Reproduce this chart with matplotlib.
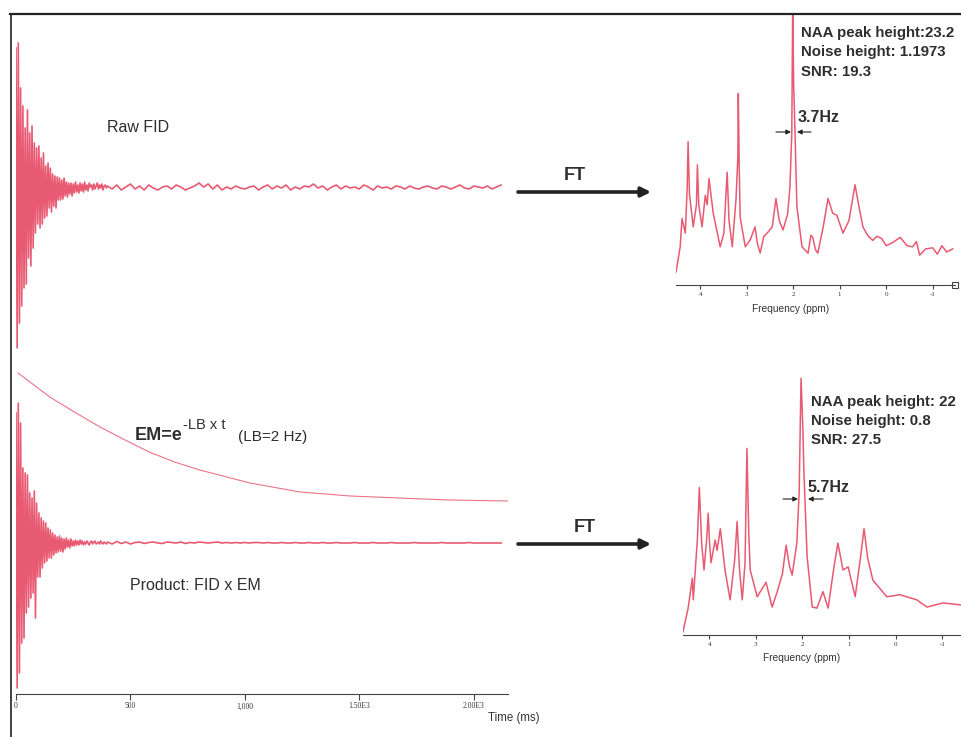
import numpy as np
import matplotlib.pyplot as plt
from matplotlib.patches import FancyArrowPatch
from matplotlib.lines import Line2D

# ---- data ----
# FID amplitudes (a.u.), early part sampled every 5 ms, tail every 20 ms
raw_early = [140, -160, 145, -135, 100, -118, 82, -100, 60, -96,
             78, -70, 55, -78, 62, -60, 45, -45, 40, -36,
             42, -40, 30, -36, 35, -30, 22, -28, 25, -20,
             20, -24, 14, -18, 12, -20, 11, -12, 10, -12,
             8, -11, 10, -8, 6, -9, 5, -6, 5, -8,
             4, -5, 6, -4, 3, -5, 5, -3, 4, -4,
             6, -2, 3, -3, 5, 1, 3, -2, 4, -1,
             2, 5, -1, 3, 0, 4, -2, 2, 3, 0]
raw_tail = [2, -1, 3, -2, 1, 4, -1, 2, -2, 3,
            0, -2, 1, 2, -1, 3, 1, -2, 0, 2,
            5, 1, 4, -1, 3, -2, 1, -1, 2, 0,
            -1, 1, 2, -2, 1, 3, -1, 2, 0, 3,
            -2, 1, -1, 2, 1, 4, 0, 2, -2, 1,
            3, -1, 2, 0, 1, -1, 3, 1, -2, 2,
            0, 1, -1, 2, 1, -1, 2, 0, -1, 1,
            2, 0, -1, 2, 1, -1, 1, 3, 0, -1,
            2, 1, 0, 2, -1, 1, 3]
prod_early = [130, -145, 140, -130, 120, -100, 75, -95, 70, -70,
              68, -64, 50, -55, 45, -50, 52, -75, 40, -34,
              30, -34, 25, -25, 22, -20, 20, -18, 15, -15,
              13, -15, 10, -12, 8, -10, 6, -9, 7, -8,
              5, -9, 4, -6, 5, -4, 3, -5, 4, -3,
              2, -3, 3, -2, 2, -2, 3, -1, 2, -2,
              1, -1, 2, 0, -2, 1, 2, -1, 1, 2,
              -1, 0, 1, -1, 2, 0, -1, 1, 0, -1]
prod_tail = [1, -1, 1.5, -0.5, 1, -1, 0.5, 1, -0.5, 0.5,
             1, 0, -0.5, 1, 0.5, 0, 1, -0.5, 0.5, 0,
             1, 0.5, 0, 0.5, 1, 0, 0.5, 0, 0.5, 0,
             0.5, 0, 0.5, 0.5, 0, 0.5, 0, 0, 0.5, 0,
             0, 0.5, 0, 0, 0.5, 0, 0, 0.5, 0, 0,
             0.5, 0, 0, 0, 0.5, 0, 0, 0, 0.5, 0,
             0, 0, 0.5, 0, 0, 0, 0, 0.5, 0, 0,
             0, 0, 0, 0.5, 0, 0, 0, 0, 0, 0.5,
             0, 0, 0, 0, 0, 0, 0]

# exponential filter EM = exp(-LB t)
em_t = [9, 148, 255, 367, 476, 585, 694, 803, 1022, 1240, 1459, 1677, 1895, 2157]
em_val = [1.0, 0.815, 0.70, 0.585, 0.485, 0.39, 0.315, 0.254, 0.154, 0.085,
          0.054, 0.038, 0.023, 0.015]

time_ticks = [0, 500, 1000, 1500, 2000]
time_labels = ['0', '500', '1,000', '1.50E3', '2.00E3']

# spectra (ppm, intensity)
spec1_ppm = [4.52, 4.47, 4.43, 4.39, 4.32, 4.28, 4.26, 4.23, 4.15, 4.08,
             4.06, 4.03, 3.96, 3.89, 3.85, 3.81, 3.72, 3.57, 3.49, 3.46,
             3.42, 3.38, 3.31, 3.23, 3.19, 3.18, 3.16, 3.14, 3.03, 2.92,
             2.82, 2.77, 2.71, 2.63, 2.56, 2.45, 2.37, 2.30, 2.22, 2.12,
             2.07, 2.03, 2.01, 1.99, 1.96, 1.92, 1.81, 1.68, 1.62, 1.58,
             1.52, 1.47, 1.35, 1.25, 1.15, 1.06, 0.93, 0.80, 0.67, 0.58,
             0.50, 0.40, 0.29, 0.20, 0.10, 0.0, -0.14, -0.30, -0.45, -0.57,
             -0.65, -0.72, -0.85, -1.0, -1.1, -1.2, -1.3, -1.43]
spec1_int = [-1.9, -0.6, 0.5, 3.2, 1.8, 6.0, 10.5, 5.5, 2.4, 4.5,
             8.3, 4.5, 2.4, 5.4, 4.5, 7.0, 3.7, 0.5, 1.8, 4.3,
             7.6, 3.0, 0.5, 5.0, 9.0, 15.1, 8.0, 3.3, 0.5, 1.2,
             2.4, 0.8, -0.1, 1.5, 1.8, 2.4, 5.1, 3.0, 2.1, 3.6,
             6.2, 11.3, 23.5, 16.0, 11.3, 4.3, 0.5, -0.1, 1.6, 1.4,
             0.2, -0.1, 2.5, 5.1, 3.7, 3.5, 1.8, 3.0, 6.4, 4.2,
             2.4, 1.6, 1.1, 1.5, 1.3, 0.6, 0.9, 1.4, 0.6, 0.5,
             1.0, -0.3, 0.3, 0.4, -0.2, 0.6, 0.0, 0.3]
spec2_ppm = [4.56, 4.45, 4.36, 4.34, 4.25, 4.21, 4.16, 4.11, 4.05, 4.02,
             3.99, 3.96, 3.87, 3.83, 3.76, 3.66, 3.55, 3.45, 3.40, 3.35,
             3.29, 3.23, 3.19, 3.15, 3.12, 2.97, 2.78, 2.65, 2.54, 2.43,
             2.35, 2.28, 2.22, 2.12, 2.07, 2.03, 1.99, 1.97, 1.90, 1.79,
             1.69, 1.56, 1.45, 1.33, 1.24, 1.13, 1.02, 0.87, 0.75, 0.68,
             0.60, 0.49, 0.19, -0.09, -0.45, -0.67, -1.01, -1.42]
spec2_int = [-2.6, -0.3, 2.6, 0.5, 6.5, 11.4, 6.0, 3.4, 6.5, 8.9,
             6.0, 4.1, 6.3, 5.3, 7.4, 3.4, 0.5, 4.5, 8.1, 3.5,
             0.5, 4.1, 15.2, 7.0, 3.4, 0.8, 2.2, -0.2, 1.3, 3.0,
             5.8, 3.8, 2.9, 6.0, 11.0, 22.0, 17.0, 13.1, 4.7, -0.2,
             -0.3, 1.3, -0.3, 3.5, 6.0, 3.4, 3.7, 0.8, 4.8, 7.4,
             4.5, 2.4, 0.8, 1.0, 0.5, -0.2, 0.2, 0.0]
ppm_ticks = [4, 3, 2, 1, 0, -1]

# ---- figure ----
W, H = 962, 737
fig = plt.figure(figsize=(W / 100, H / 100), dpi=100)
plt.rcParams['font.family'] = ['Liberation Sans', 'DejaVu Sans']


def rect(x0, y0, x1, y1):
    return [x0 / W, 1 - y1 / H, (x1 - x0) / W, (y1 - y0) / H]


def fx(x):
    return x / W


def fy(y):
    return 1 - y / H


red = '#e85a72'
txt = '#2e2e2e'

# time domain
ax = fig.add_axes(rect(16, 30, 508, 694))
t_raw = np.concatenate([5 * np.arange(len(raw_early)), 400 + 20 * np.arange(len(raw_tail))])
t_prod = np.concatenate([5 * np.arange(len(prod_early)), 400 + 20 * np.arange(len(prod_tail))])
raw = np.array(raw_early + raw_tail, dtype=float)
prod = np.array(prod_early + prod_tail, dtype=float)
ax.plot(t_raw, 506 + raw, color=red, lw=1.2)
ax.plot(t_prod, 151 + prod, color=red, lw=1.2)
ax.plot(em_t, 191 + 130 * np.array(em_val), color=red, lw=0.8, alpha=0.85)
ax.set_xlim(0, 2150)
ax.set_ylim(0, 664)
for s in ['top', 'right', 'left']:
    ax.spines[s].set_visible(False)
ax.spines['bottom'].set_color('#444444')
ax.set_yticks([])
ax.set_xticks(time_ticks)
ax.set_xticklabels(time_labels, family='Liberation Serif', fontsize=5.5, color='#333333')
ax.tick_params(axis='x', length=4, width=0.8, color='#444444', pad=2)

fig.text(fx(488), fy(718), 'Time (ms)', fontsize=8.3, color='#333333', va='center')


def spectrum(box, ppm, inten, ylim, xlim, label_xy, square=False):
    a = fig.add_axes(rect(*box))
    a.plot(ppm, inten, color=red, lw=1.1)
    a.set_xlim(*xlim)
    a.set_ylim(*ylim)
    for s in ['top', 'right', 'left']:
        a.spines[s].set_visible(False)
    a.spines['bottom'].set_color('#444444')
    a.set_yticks([])
    a.set_xticks(ppm_ticks)
    a.set_xticklabels([str(v) for v in ppm_ticks], family='Liberation Serif',
                      fontsize=5, color='#333333')
    a.tick_params(axis='x', length=3, width=0.8, color='#444444', pad=2)
    fig.text(fx(label_xy[0]), fy(label_xy[1]), 'Frequency (ppm)', fontsize=7.3,
             color='#333333', ha='center', va='center')
    if square:
        a.plot([xlim[1]], [ylim[0]], marker='s', ms=4, mfc='white', mec='#444444',
               mew=0.8, clip_on=False)
    return a


spectrum((676, 14, 955, 285), spec1_ppm, spec1_int, (-3.14, 22.67), (4.52, -1.48),
         (791, 309), square=True)
spectrum((683, 370, 962, 635), spec2_ppm, spec2_int, (-2.91, 22.8), (4.56, -1.42),
         (802, 658))

# page frame
fig.add_artist(Line2D([fx(10), 1], [fy(14), fy(14)], color='#222222', lw=1.6))
fig.add_artist(Line2D([fx(11), fx(11)], [fy(14), 0], color='#222222', lw=1.2))

# labels
fig.text(fx(107), fy(127), 'Raw FID', fontsize=11.5, color=txt, va='center')
fig.text(fx(135), fy(436), 'EM=e', fontsize=13, weight='bold', color=txt, va='center')
fig.text(fx(183), fy(425), '-LB x t', fontsize=10.5, color=txt, va='center')
fig.text(fx(238), fy(437), '(LB=2 Hz)', fontsize=11, color=txt, va='center')
fig.text(fx(130), fy(585), 'Product: FID x EM', fontsize=11.5, color=txt, va='center')

for x, y, ay in [(575, 175, 192), (585, 528, 544)]:
    fig.text(fx(x), fy(y), 'FT', fontsize=13, weight='bold', color=txt, ha='center', va='center')
    fig.add_artist(FancyArrowPatch((fx(518), fy(ay)), (fx(651), fy(ay)), transform=fig.transFigure,
                                   arrowstyle='-|>', mutation_scale=14, lw=2.6, color='#222222',
                                   shrinkA=0, shrinkB=0))

for y, s in [(33, 'NAA peak height:23.2'), (52, 'Noise height: 1.1973'), (72, 'SNR: 19.3')]:
    fig.text(fx(801), fy(y), s, fontsize=10.8, weight='bold', color=txt, va='center')
for y, s in [(402, 'NAA peak height: 22'), (421, 'Noise height: 0.8'), (440, 'SNR: 27.5')]:
    fig.text(fx(811), fy(y), s, fontsize=10.8, weight='bold', color=txt, va='center')

fig.text(fx(798), fy(117), '3.7Hz', fontsize=11.5, weight='bold', color=txt, va='center')
fig.text(fx(808), fy(487), '5.7Hz', fontsize=11.5, weight='bold', color=txt, va='center')
for (x0, x1, y) in [(776, 791, 132), (811, 797, 132), (783, 798, 499), (823, 808, 499)]:
    fig.add_artist(FancyArrowPatch((fx(x0), fy(y)), (fx(x1), fy(y)), transform=fig.transFigure,
                                   arrowstyle='-|>', mutation_scale=7, lw=0.8, color='#222222',
                                   shrinkA=0, shrinkB=0))

fig.savefig('out.png', dpi=100)
